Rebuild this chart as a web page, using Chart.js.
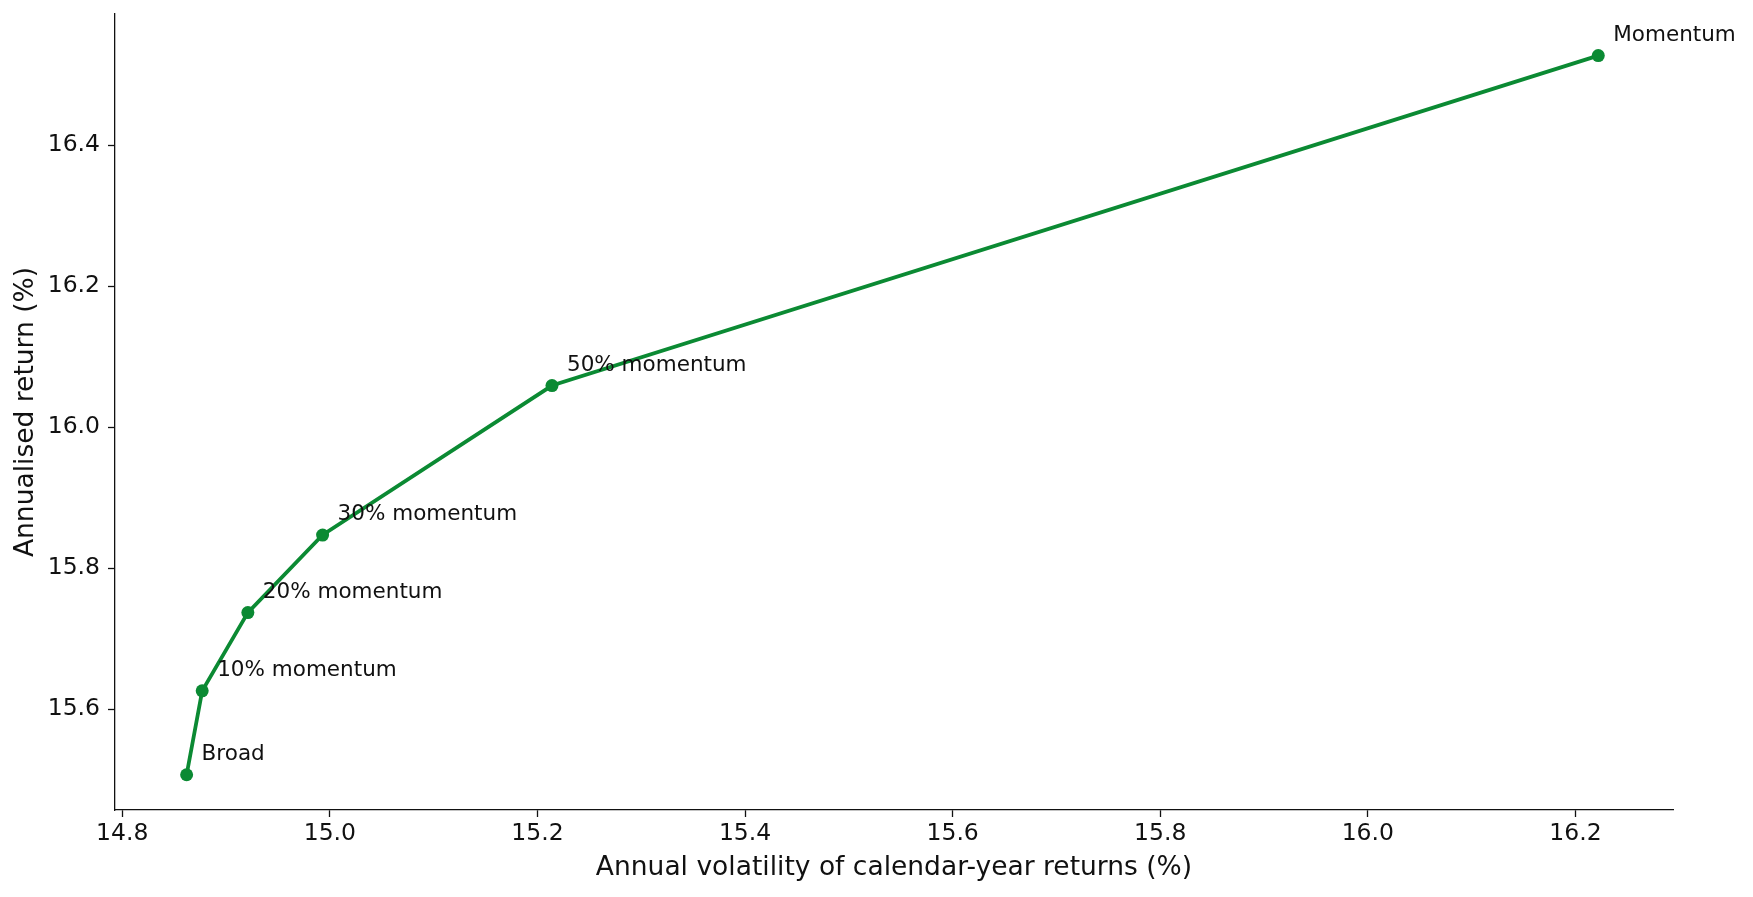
<!DOCTYPE html>
<html>
<head>
<meta charset="utf-8">
<script src="https://cdn.jsdelivr.net/npm/chart.js@4"></script>
<style>
  html, body { margin: 0; padding: 0; background: #fff; }
</style>
</head>
<body>
<canvas id="frontierChart" width="1753" height="897"></canvas>
<script>
// Valores
const portfolios = ['Broad', '10% momentum', '20% momentum', '30% momentum', '50% momentum', 'Momentum'];
const volatility = [14.862, 14.877, 14.921, 14.993, 15.214, 16.222];
const annualReturn = [15.507, 15.626, 15.737, 15.847, 16.059, 16.527];
const xTicks = [14.8, 15.0, 15.2, 15.4, 15.6, 15.8, 16.0, 16.2];
const yTicks = [15.6, 15.8, 16.0, 16.2, 16.4];

const green = '#0b8a33';
const ink = '#111';

// Rótulos ao lado de cada ponto
const pointLabels = {
    id: 'pointLabels',
    afterDatasetsDraw(chart) {
        const ctx = chart.ctx;
        const meta = chart.getDatasetMeta(0);
        ctx.save();
        ctx.font = '21.5px "DejaVu Sans"';
        ctx.fillStyle = ink;
        ctx.textAlign = 'left';
        ctx.textBaseline = 'alphabetic';
        meta.data.forEach((pt, i) => {
            ctx.fillText(portfolios[i], pt.x + 15, pt.y - 15);
        });
        ctx.restore();
    }
};

window.addEventListener('DOMContentLoaded', () => {
    const ctx = document.getElementById('frontierChart').getContext('2d');

    new Chart(ctx, {
        type: 'line',
        data: {
            datasets: [{
                data: volatility.map((v, i) => ({ x: v, y: annualReturn[i] })),
                borderColor: green,
                backgroundColor: green,
                borderWidth: 3.8,
                pointRadius: 6.5,
                pointHoverRadius: 6.5,
                pointBorderWidth: 0,
                tension: 0
            }]
        },
        options: {
            responsive: false,
            animation: false,
            devicePixelRatio: 1,
            layout: { padding: { top: 14, right: 80, left: 0, bottom: 0 } },
            plugins: {
                legend: { display: false },
                tooltip: { enabled: false },
                title: { display: false }
            },
            scales: {
                x: {
                    type: 'linear',
                    min: 14.793,
                    max: 16.294,
                    afterFit(scale) {
                        scale.height = 87;
                        scale.paddingLeft = 0;
                        scale.paddingRight = 0;
                    },
                    afterBuildTicks(scale) { scale.ticks = xTicks.map(v => ({ value: v })); },
                    grid: { display: true, drawOnChartArea: false, drawTicks: true, tickLength: 7, tickColor: ink, tickWidth: 1.3 },
                    border: { display: true, color: ink, width: 1.3 },
                    ticks: {
                        padding: 3,
                        color: ink,
                        font: { family: 'DejaVu Sans', size: 23.5 },
                        callback: v => v.toFixed(1)
                    },
                    title: {
                        display: true,
                        text: 'Annual volatility of calendar-year returns (%)',
                        color: ink,
                        font: { family: 'DejaVu Sans', size: 26.5 },
                        padding: { top: 0, bottom: 13 }
                    }
                },
                y: {
                    type: 'linear',
                    min: 15.457,
                    max: 16.586,
                    afterFit(scale) {
                        scale.width = 115;
                        scale.paddingTop = 0;
                        scale.paddingBottom = 0;
                    },
                    afterBuildTicks(scale) { scale.ticks = yTicks.map(v => ({ value: v })); },
                    grid: { display: true, drawOnChartArea: false, drawTicks: true, tickLength: 7, tickColor: ink, tickWidth: 1.3 },
                    border: { display: true, color: ink, width: 1.3 },
                    ticks: {
                        padding: 8,
                        color: ink,
                        font: { family: 'DejaVu Sans', size: 23.5 },
                        callback: v => v.toFixed(1)
                    },
                    title: {
                        display: true,
                        text: 'Annualised return (%)',
                        color: ink,
                        font: { family: 'DejaVu Sans', size: 26.5 },
                        padding: { top: 10, bottom: 0 }
                    }
                }
            }
        },
        plugins: [pointLabels]
    });
});
</script>
</body>
</html>
